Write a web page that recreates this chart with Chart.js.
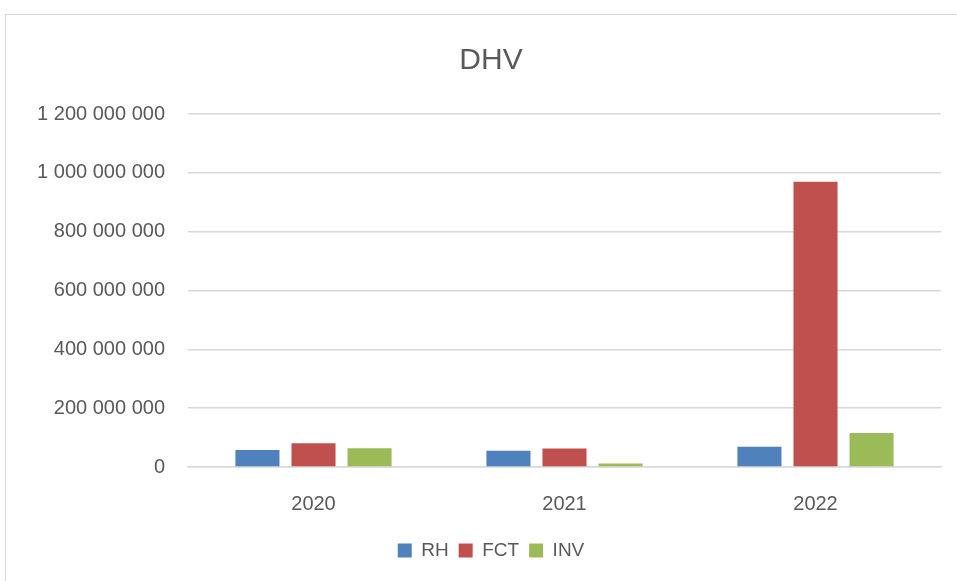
<!DOCTYPE html>
<html>
<head>
<meta charset="utf-8">
<script src="https://cdn.jsdelivr.net/npm/chart.js@4"></script>
<style>
  html, body { margin: 0; padding: 0; background: #fff; overflow: hidden; }
  #box {
    position: absolute; left: 5px; top: 14px; width: 970px; height: 567px;
    border-left: 1px solid #d9d9d9; border-top: 1px solid #d9d9d9;
  }
</style>
</head>
<body>
<div id="box"><canvas id="dhvChart"></canvas></div>
<script>
const years = ['2020', '2021', '2022'];
const rhValues = [58000000, 55000000, 69000000];
const fctValues = [81000000, 63000000, 970000000];
const invValues = [64000000, 12000000, 116000000];
const yTicks = [0, 200000000, 400000000, 600000000, 800000000, 1000000000, 1200000000];

function spaced(v) {
    return String(v).replace(/\B(?=(\d{3})+(?!\d))/g, ' ');
}

const font = "'Liberation Sans', Arial, sans-serif";
const grey = '#595959';

const ctx = document.getElementById('dhvChart').getContext('2d');
const dhvChart = new Chart(ctx, {
    type: 'bar',
    data: {
        labels: years,
        datasets: [
            { label: 'RH', data: rhValues, backgroundColor: '#4f81bd' },
            { label: 'FCT', data: fctValues, backgroundColor: '#c0504d' },
            { label: 'INV', data: invValues, backgroundColor: '#9bbb59' }
        ]
    },
    options: {
        responsive: true,
        maintainAspectRatio: false,
        animation: false,
        layout: { padding: { left: 0, right: 0, top: 0, bottom: 12 } },
        datasets: { bar: { categoryPercentage: 0.67, barPercentage: 0.786 } },
        plugins: {
            title: {
                display: true,
                text: 'DHV',
                color: grey,
                font: { family: font, size: 30, weight: 'normal' },
                padding: { top: 28, bottom: 35 }
            },
            legend: {
                position: 'bottom',
                labels: {
                    color: grey,
                    font: { family: font, size: 19 },
                    boxWidth: 14,
                    boxHeight: 14,
                    padding: 10
                }
            },
            tooltip: { enabled: false }
        },
        scales: {
            x: {
                grid: { display: false },
                border: { color: '#d9d9d9', width: 1.5 },
                ticks: { color: grey, font: { family: font, size: 20 }, padding: 17 },
                afterFit: s => { s.height = 64; }
            },
            y: {
                min: 0,
                max: yTicks[yTicks.length - 1],
                afterBuildTicks: s => { s.ticks = yTicks.map(v => ({ value: v })); },
                grid: { color: '#d9d9d9', lineWidth: 1.5, drawTicks: false },
                border: { display: false },
                ticks: {
                    color: grey,
                    font: { family: font, size: 20 },
                    padding: 23,
                    callback: v => spaced(v)
                },
                afterFit: s => { s.width = 182; }
            },
            yRight: {
                position: 'right',
                grid: { display: false },
                border: { display: false },
                ticks: { display: false },
                afterFit: s => { s.width = 35; }
            }
        }
    }
});
</script>
</body>
</html>
